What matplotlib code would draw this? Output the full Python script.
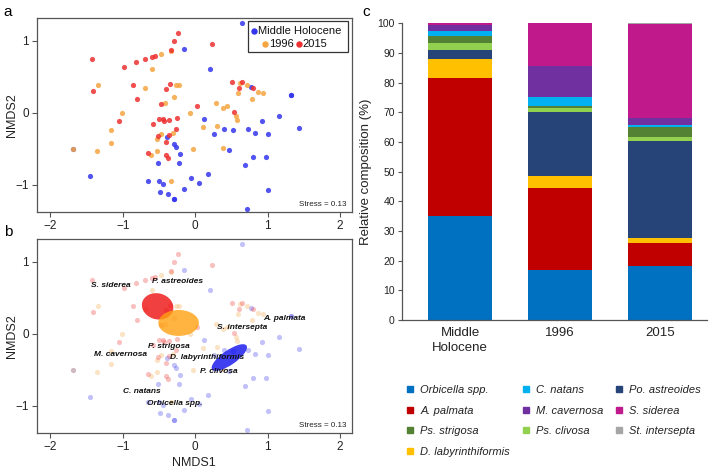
import matplotlib
matplotlib.use("Agg")
import matplotlib.pyplot as plt
from matplotlib.patches import Ellipse, Rectangle
from matplotlib.lines import Line2D
import numpy as np

plt.rcParams['font.family'] = ['Liberation Sans', 'DejaVu Sans']

# ---------------- NMDS data ----------------
mh_x = [0.65, -0.16, 0.20, 1.32, 1.32, 1.16, 1.43, 0.12, 0.92, 0.26, 0.40, 0.52, 0.73, 0.82, 1.00,
        -0.39, -0.30, -0.26, -0.21, -0.23, 0.47, 0.80, 0.98, 0.69, -0.51, -1.45, -0.65, -0.50,
        -0.45, -0.06, 0.05, 0.18, -0.16, -0.49, -0.37, -0.29, -0.29, 1.01, 0.72, 0.77, -1.69]
mh_y = [1.25, 0.88, 0.61, 0.24, 0.24, -0.05, -0.21, -0.08, -0.11, -0.30, -0.23, -0.24, -0.23, -0.28, -0.29,
        -0.33, -0.43, -0.47, -0.57, -0.69, -0.52, -0.61, -0.61, -0.73, -0.70, -0.88, -0.95, -0.95,
        -0.99, -0.90, -0.97, -0.85, -1.06, -1.10, -1.13, -1.20, -1.20, -1.07, -1.33, 0.36, -0.50]

y96_x = [-0.47, -0.34, -0.60, -1.34, -0.70, -0.26, -0.23, -0.29, -0.42, -1.01, -1.16, -1.16, -1.36,
         -1.69, -0.53, -0.47, -0.53, -0.61, -0.31, -0.34, -0.07, -0.03, 0.11, 0.29, 0.30, 0.38, 0.44,
         0.38, 0.56, 0.57, 0.59, 0.62, 0.71, 0.78, 0.87, 0.94]
y96_y = [0.81, 0.86, 0.61, 0.39, 0.35, 0.38, 0.39, 0.22, 0.13, 0.00, -0.24, -0.42, -0.53,
         -0.50, -0.36, -0.30, -0.53, -0.59, -0.28, -0.94, -0.01, -0.50, -0.20, 0.13, -0.18, 0.07, 0.09,
         -0.49, -0.05, -0.10, 0.27, 0.41, 0.39, 0.19, 0.29, 0.27]

y15_x = [-0.24, -0.29, -0.33, 0.23, -1.42, -0.99, -0.82, -0.69, -0.60, -0.55, -1.41, -0.86, -0.81,
         -0.35, -0.41, -0.48, 0.02, -1.05, -0.59, -0.50, -0.43, -0.45, -0.36, -0.25, -0.26, -0.52,
         -0.36, -0.41, -0.65, -0.41, -0.38, 0.53, 0.51, 0.61, 0.80, 0.64]
y15_y = [1.11, 0.99, 0.87, 0.95, 0.74, 0.64, 0.70, 0.75, 0.78, 0.79, 0.30, 0.39, 0.19,
         0.40, 0.33, 0.12, 0.10, -0.12, -0.15, -0.09, -0.12, -0.09, -0.10, -0.07, -0.22, -0.32,
         -0.31, -0.41, -0.56, -0.58, -0.63, 0.01, 0.43, 0.34, 0.34, 0.42]

# ellipses (centre x, centre y, width, height, angle)
ell_groups = ['2015', '1996', 'Middle Holocene']
ell_cx = [-0.52, -0.23, 0.47]
ell_cy = [0.38, 0.15, -0.33]
ell_w = [0.44, 0.56, 0.58]
ell_h = [0.36, 0.36, 0.20]
ell_ang = [-15, 0, 35]

species_labels = ['S. siderea', 'P. astreoides', 'A. palmata', 'S. intersepta', 'P. strigosa',
                  'M. cavernosa', 'D. labyrinthiformis', 'P. clivosa', 'C. natans', 'Orbicella spp.']
species_x = [-1.17, -0.24, 1.23, 0.64, -0.37, -1.03, 0.16, 0.33, -0.74, -0.29]
species_y = [0.67, 0.72, 0.21, 0.09, -0.18, -0.29, -0.33, -0.52, -0.80, -0.97]

# ---------------- composition data ----------------
periods = ['Middle\nHolocene', '1996', '2015']
taxa = ['Orbicella spp.', 'A. palmata', 'D. labyrinthiformis', 'Po. astreoides', 'Ps. clivosa',
        'Ps. strigosa', 'C. natans', 'M. cavernosa', 'S. siderea', 'St. intersepta']
comp = {
    'Orbicella spp.':      [35.1, 16.8, 18.2],
    'A. palmata':          [46.3, 27.8, 7.6],
    'D. labyrinthiformis': [6.4, 3.8, 2.0],
    'Po. astreoides':      [3.1, 21.6, 32.6],
    'Ps. clivosa':         [2.3, 1.6, 1.4],
    'Ps. strigosa':        [2.5, 0.4, 3.2],
    'C. natans':           [1.8, 3.2, 0.8],
    'M. cavernosa':        [1.8, 10.4, 2.3],
    'S. siderea':          [0.7, 14.4, 31.7],
    'St. intersepta':      [0.0, 0.0, 0.2],
}
taxa_colors = {
    'Orbicella spp.': '#0070C0', 'A. palmata': '#C00000', 'D. labyrinthiformis': '#FFC000',
    'Po. astreoides': '#264478', 'Ps. clivosa': '#92D050', 'Ps. strigosa': '#548235',
    'C. natans': '#00B0F0', 'M. cavernosa': '#7030A0', 'S. siderea': '#C0198C',
    'St. intersepta': '#A5A5A5',
}
legend_order = ['Orbicella spp.', 'A. palmata', 'Ps. strigosa', 'D. labyrinthiformis',
                'C. natans', 'M. cavernosa', 'Ps. clivosa',
                'Po. astreoides', 'S. siderea', 'St. intersepta']

c_blue = '#3535EE'
c_orange = '#F5A540'
c_red = '#EE3030'
spine_c = '#555555'

fig = plt.figure(figsize=(7.09, 4.72), dpi=100)
W, H = 709, 472

def px_axes(l, t, r, b):
    return fig.add_axes([l / W, 1 - b / H, (r - l) / W, (b - t) / H])

axA = px_axes(36.7, 18.3, 351.7, 212.3)
axB = px_axes(36.7, 239.3, 351.7, 433.3)
axC = px_axes(401.7, 23.3, 707, 320)

for ax, faded in [(axA, False), (axB, True)]:
    a = 0.3 if faded else 0.85
    ax.scatter(mh_x, mh_y, s=14, color=c_blue, alpha=a, linewidths=0, zorder=2)
    ax.scatter(y96_x, y96_y, s=14, color=c_orange, alpha=a, linewidths=0, zorder=2)
    ax.scatter(y15_x, y15_y, s=14, color=c_red, alpha=a, linewidths=0, zorder=2)
    ax.set_xlim(-2.19, 2.16)
    ax.set_ylim(-1.38, 1.31)
    ax.set_xticks([-2, -1, 0, 1, 2])
    ax.set_yticks([-1, 0, 1])
    ax.set_xticklabels(['\u22122', '\u22121', '0', '1', '2'])
    ax.set_yticklabels(['\u22121', '0', '1'])
    for sp in ax.spines.values():
        sp.set_color(spine_c)
        sp.set_linewidth(0.9)
    ax.tick_params(direction='out', length=3.5, width=0.8, color=spine_c, labelsize=8.5,
                   labelcolor='#222222', pad=2)
    ax.set_ylabel('NMDS2', fontsize=9, color='#222222')
    ax.yaxis.set_label_coords(-0.058, 0.5)
    ax.text(0.985, 0.02, 'Stress = 0.13', transform=ax.transAxes, ha='right', va='bottom',
            fontsize=5.8, color='#222222')

axB.set_xlabel('NMDS1', fontsize=9, color='#222222', labelpad=3)

# ellipses
ell_colors = {'2015': '#EE1010', '1996': '#FFA010', 'Middle Holocene': '#1010EE'}
for g, cx, cy, w, h, ang in zip(ell_groups, ell_cx, ell_cy, ell_w, ell_h, ell_ang):
    axB.add_patch(Ellipse((cx, cy), w, h, angle=ang, facecolor=ell_colors[g],
                          edgecolor='none', alpha=0.8, zorder=3))
for lab, x, y in zip(species_labels, species_x, species_y):
    axB.text(x, y, lab, ha='center', va='center', fontsize=6, fontweight='bold',
             fontstyle='italic', color='#111111', zorder=4)

# legend panel a (manual layout)
axA.add_patch(Rectangle((0.672, 0.826), 0.316, 0.16, transform=axA.transAxes, facecolor='white',
                        edgecolor='#333333', linewidth=0.9, zorder=5))
axA.plot([0.690], [0.936], 'o', ms=3.6, color=c_blue, transform=axA.transAxes, zorder=6,
         clip_on=False)
axA.text(0.703, 0.936, 'Middle Holocene', transform=axA.transAxes, va='center', ha='left',
         fontsize=8, color='#111111', zorder=6)
axA.plot([0.725], [0.866], 'o', ms=3.6, color=c_orange, transform=axA.transAxes, zorder=6)
axA.text(0.738, 0.866, '1996', transform=axA.transAxes, va='center', ha='left',
         fontsize=8, color='#111111', zorder=6)
axA.plot([0.833], [0.866], 'o', ms=3.6, color=c_red, transform=axA.transAxes, zorder=6)
axA.text(0.845, 0.866, '2015', transform=axA.transAxes, va='center', ha='left',
         fontsize=8, color='#111111', zorder=6)

# ---------------- panel c ----------------
xpos = np.arange(len(periods))
bottom = np.zeros(len(periods))
for t in taxa:
    vals = np.array(comp[t])
    axC.bar(xpos, vals, bottom=bottom, width=0.646, color=taxa_colors[t], edgecolor='none',
            label=t)
    bottom += vals
axC.set_xlim(-0.583, 2.47)
axC.set_ylim(0, 100)
axC.set_yticks(np.arange(0, 101, 10))
axC.set_xticks(xpos)
axC.set_xticklabels(periods, fontsize=9.5, color='#222222', linespacing=1.3)
axC.tick_params(axis='x', length=0, pad=5)
axC.tick_params(axis='y', direction='out', length=3, width=0.8, color='#555555', labelsize=7.5,
                labelcolor='#222222', pad=2)
for s in ['top', 'right']:
    axC.spines[s].set_visible(False)
for s in ['left', 'bottom']:
    axC.spines[s].set_color('#555555')
    axC.spines[s].set_linewidth(0.9)
axC.set_ylabel('Relative composition (%)', fontsize=9.5, color='#222222', labelpad=4)

handles = [Line2D([], [], marker='s', linestyle='', markersize=5, color=taxa_colors[t],
                  label=t) for t in legend_order]
leg = fig.legend(handles=handles, loc='upper left', bbox_to_anchor=(406 / W, 1 - 385 / H),
                 ncol=3, frameon=False, fontsize=8, handlelength=0.8, handletextpad=0.5,
                 columnspacing=1.0, labelspacing=0.95, borderpad=0, borderaxespad=0)
for txt in leg.get_texts():
    txt.set_fontstyle('italic')
    txt.set_color('#222222')

fig.text(8 / W, 1 - 12 / H, 'a', fontsize=11, ha='center', va='center')
fig.text(8 / W, 1 - 232 / H, 'b', fontsize=11, ha='center', va='center')
fig.text(366 / W, 1 - 12 / H, 'c', fontsize=11, ha='center', va='center')

fig.savefig('out.png', dpi=100)
